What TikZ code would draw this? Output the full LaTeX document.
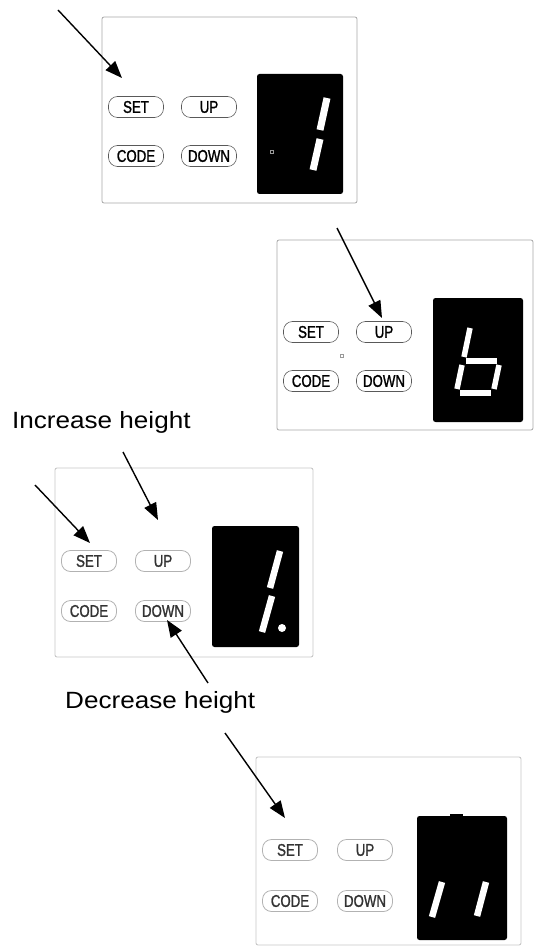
\documentclass[tikz,border=0pt]{standalone}
\usepackage{fontspec}
\usetikzlibrary{arrows.meta}
\newfontfamily\btnfont[FakeStretch=0.78,FakeBold=1.2]{Liberation Sans}
\newfontfamily\lblfont[FakeStretch=1.11]{Liberation Sans}
\tikzset{
 panel/.style={draw=black!35, line width=0.8pt, rounded corners=2pt},
 panelfaint/.style={draw=black!22, line width=0.9pt, rounded corners=2pt},
 btn/.style={draw=black!65, line width=0.6pt, rounded corners=9pt, minimum width=55pt, minimum height=21pt, inner sep=0pt, font=\btnfont\fontsize{17}{17}\selectfont},
 btnfaint/.style={btn, draw=black!30, line width=0.8pt, text=black!80},
 disp/.style={fill=black, rounded corners=2.5pt},
 seg/.style={draw=white, line width=6.5pt},
 tinysq/.style={draw=black!40, line width=0.4pt},
 arr/.style={line width=1.4pt, -{Triangle[length=17pt,width=13pt]}},
 lbl/.style={font=\lblfont\fontsize{23.5}{23.5}\selectfont, anchor=base west, inner sep=0pt},
}
\begin{document}
\begin{tikzpicture}[x=1pt,y=-1pt]
\useasboundingbox (0,0) rectangle (534,949);
% ---------- panel 1 ----------
\draw[panel] (102,17) rectangle (357,203);
\fill[disp] (257,74) rectangle (343,194);
\draw[tinysq] (270.5,150.5) rectangle (273.5,153.5);
\draw[seg, line width=7pt] (327,98) -- (320,130);
\draw[seg, line width=7pt] (320,139) -- (313,170);
\node[btn] (set1) at (136,107) {SET};
\node[btn] (up1) at (209,107) {UP};
\node[btn] (code1) at (136,156) {CODE};
\node[btn] (down1) at (209,156) {DOWN};
\coordinate (a1s) at (58,10);
\coordinate (a1e) at (122,78);
\draw[arr] (a1s) -- (a1e);
% ---------- panel 2 ----------
\draw[panel] (277,240) rectangle (533,430);
\fill[disp] (433,298) rectangle (523,422);
\draw[tinysq] (340.5,354.5) rectangle (343.5,357.5);
\draw[seg, line width=5.5pt] (470,328) -- (464,357);
\draw[seg, line width=5.5pt] (466,361) -- (497,361);
\draw[seg, line width=5.5pt] (462,365) -- (457,389);
\draw[seg, line width=5.5pt] (499,365) -- (494,389);
\draw[seg, line width=5.5pt] (460,393) -- (491,393);
\node[btn] (set2) at (311,332) {SET};
\node[btn] (up2) at (384,332) {UP};
\node[btn] (code2) at (311,381) {CODE};
\node[btn] (down2) at (384,381) {DOWN};
\coordinate (a2s) at (337,228);
\coordinate (a2e) at (382,318);
\draw[arr] (a2s) -- (a2e);
% ---------- panel 3 ----------
\node[lbl] (inc) at (12,428) {Increase height};
\draw[panelfaint] (55,468) rectangle (313,657);
\fill[disp] (212,526) rectangle (299,647);
\draw[seg] (280,551) -- (270,588);
\draw[seg] (272,596) -- (262,632);
\fill[white] (282,628) circle (4);
\node[btnfaint] (set3) at (89,561) {SET};
\node[btnfaint] (up3) at (163,561) {UP};
\node[btnfaint] (code3) at (89,611) {CODE};
\node[btnfaint] (down3) at (163,611) {DOWN};
\coordinate (a3s) at (35,485);
\coordinate (a3e) at (90,543);
\draw[arr] (a3s) -- (a3e);
\coordinate (a4s) at (123,452);
\coordinate (a4e) at (158,520);
\draw[arr] (a4s) -- (a4e);
\coordinate (a5s) at (208,683);
\coordinate (a5e) at (167,620);
\draw[arr] (a5s) -- (a5e);
\node[lbl] (dec) at (65,708) {Decrease height};
% ---------- panel 4 ----------
\draw[panelfaint] (256,757) rectangle (521,945);
\fill[disp] (417,816) rectangle (507,940);
\fill[black] (450,814) rectangle (463,817);
\draw[seg] (442,882) -- (432,917);
\draw[seg] (486,882) -- (477,916);
\node[btnfaint] (set4) at (290,850) {SET};
\node[btnfaint] (up4) at (365,850) {UP};
\node[btnfaint] (code4) at (290,901) {CODE};
\node[btnfaint] (down4) at (365,901) {DOWN};
\coordinate (a6s) at (225,733);
\coordinate (a6e) at (285,818);
\draw[arr] (a6s) -- (a6e);
\end{tikzpicture}
\end{document}
